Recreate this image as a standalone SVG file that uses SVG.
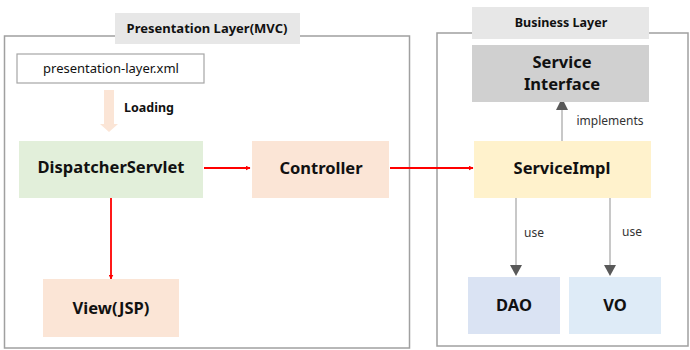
<svg xmlns="http://www.w3.org/2000/svg" width="690" height="350" viewBox="0 0 690 350">
<style>
text{font-family:"Noto Sans","Open Sans","DejaVu Sans",sans-serif;fill:#111;text-anchor:middle}
.b{font-weight:bold}
.big{font-size:16.5px;font-weight:bold}
.sm{font-size:12px;fill:#333}
.frame{fill:none;stroke:#a0a0a0;stroke-width:1.5}
.title{fill:#e7e7e7}
.red{stroke:#ff0000;stroke-width:1.8;fill:none}
.gray{stroke:#c8c8c8;stroke-width:2;fill:none}
</style>
<defs>
<marker id="ra" viewBox="0 0 10 10" refX="9" refY="5" markerWidth="5" markerHeight="5" orient="auto" markerUnits="userSpaceOnUse"><path d="M0,0L10,5L0,10z" fill="#ff0000"/></marker>
</defs>
<rect width="690" height="350" fill="#fff"/>
<g id="presentation-layer">
<rect class="frame" x="4.5" y="36" width="405" height="312"/>
<rect class="title" x="115" y="13" width="185" height="31"/>
<text class="b" x="207" y="33" font-size="13">Presentation Layer(MVC)</text>
</g>
<g id="business-layer">
<rect class="frame" x="437" y="33" width="251" height="313"/>
<rect class="title" x="472" y="7" width="177" height="32"/>
<text class="b" x="561" y="27" font-size="12.5">Business Layer</text>
</g>
<g id="connectors">
<path d="M104,90H114V124H118L109,132L100,124H104Z" fill="#fbe5d6"/>
<text class="b" x="149" y="112" font-size="12.5">Loading</text>
<line class="red" x1="204" y1="168" x2="250" y2="168" marker-end="url(#ra)"/>
<line class="red" x1="390" y1="168" x2="473" y2="168" marker-end="url(#ra)"/>
<line class="red" x1="111" y1="198" x2="111" y2="279" marker-end="url(#ra)"/>
<line class="gray" x1="562" y1="141" x2="562" y2="108"/>
<path d="M556,110L562,98L568,110Z" fill="#595959"/>
<text class="sm" x="610" y="125">implements</text>
<line class="gray" x1="516" y1="198" x2="516" y2="266"/>
<path d="M510,265L516,276L522,265Z" fill="#595959"/>
<text class="sm" x="534" y="237">use</text>
<line class="gray" x1="610" y1="198" x2="610" y2="266"/>
<path d="M604,265L610,276L616,265Z" fill="#595959"/>
<text class="sm" x="632" y="236">use</text>
</g>
<g id="presentation-xml">
<rect x="17" y="54" width="187" height="29" fill="#fff" stroke="#a6a6a6" stroke-width="1.2"/>
<text x="111" y="73" font-size="13" fill="#333">presentation-layer.xml</text>
</g>
<g id="dispatcher-servlet">
<rect x="19" y="141" width="184" height="57" fill="#e2efda"/>
<text class="big" x="111" y="173">DispatcherServlet</text>
</g>
<g id="controller">
<rect x="252" y="141" width="137" height="57" fill="#fbe5d6"/>
<text class="big" x="321" y="174">Controller</text>
</g>
<g id="view-jsp">
<rect x="43" y="279" width="136" height="58" fill="#fbe5d6"/>
<text class="big" x="111" y="314">View(JSP)</text>
</g>
<g id="service-interface">
<rect x="472" y="45" width="177" height="57" fill="#d0d0d0"/>
<text class="big" x="562" y="68" font-size="16">Service</text>
<text class="big" x="562" y="90" font-size="16">Interface</text>
</g>
<g id="service-impl">
<rect x="474" y="141" width="177" height="57" fill="#fff2cc"/>
<text class="big" x="562" y="174">ServiceImpl</text>
</g>
<g id="dao">
<rect x="468" y="277" width="92" height="57" fill="#dae3f3"/>
<text class="big" x="514" y="311">DAO</text>
</g>
<g id="vo">
<rect x="569" y="277" width="92" height="57" fill="#deebf7"/>
<text class="big" x="615" y="311">VO</text>
</g>
</svg>
